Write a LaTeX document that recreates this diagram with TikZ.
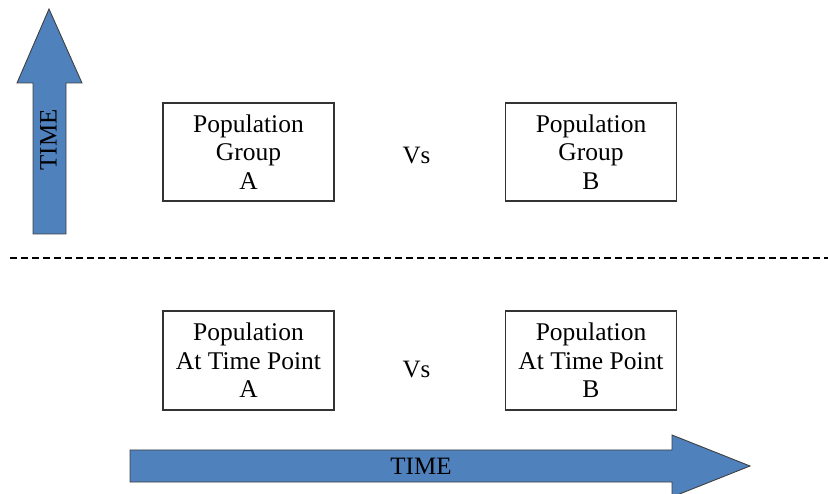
\documentclass[tikz,border=0pt]{standalone}
\usepackage{fontspec}
\setmainfont{Liberation Serif}
\definecolor{arrowblue}{HTML}{4F81BD}
\begin{document}
\begin{tikzpicture}[x=1pt,y=-1pt,
  popbox/.style={draw=black!80, line width=1.1pt, minimum width=171pt, minimum height=98pt, align=center, font=\fontsize{25.5}{28.5}\selectfont, inner sep=0pt},
  bigarrow/.style={fill=arrowblue, draw=black!75, line width=0.9pt},
  lbl/.style={font=\fontsize{25}{28}\selectfont}]
\useasboundingbox (0,0) rectangle (828,494);
% vertical arrow
\draw[bigarrow] (33,234) -- (33,83) -- (17,83) -- (49,9) -- (82,83) -- (66,83) -- (66,234) -- cycle;
\node[lbl, rotate=90] (vtime) at (48.5,140) {TIME};
% horizontal arrow
\draw[bigarrow] (130,450) -- (672,450) -- (672,435) -- (750,466) -- (672,497) -- (672,482) -- (130,482) -- cycle;
\node[lbl] (htime) at (421,466.5) {TIME};
% dashed separator
\coordinate (dl) at (10,258);
\coordinate (dr) at (828,258);
\draw[line width=1.6pt, dash pattern=on 7pt off 4pt] (dl) -- (dr);
% boxes
\node[popbox] (ga) at (248.5,152) {Population\\Group\\A};
\node[popbox] (gb) at (591,152) {Population\\Group\\B};
\node[lbl] (vs1) at (416.5,156) {Vs};
\node[popbox, minimum height=99pt] (ta) at (248.5,360.5) {Population\\At Time Point\\A};
\node[popbox, minimum height=99pt] (tb) at (591,360.5) {Population\\At Time Point\\B};
\node[lbl] (vs2) at (416.5,370) {Vs};
\end{tikzpicture}
\end{document}
